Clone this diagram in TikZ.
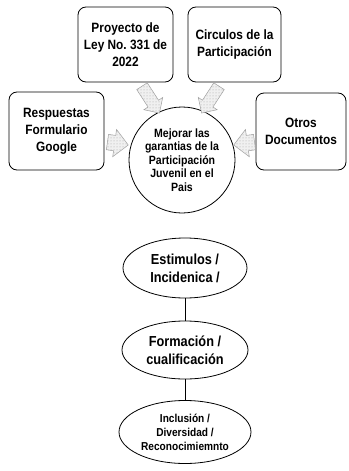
\documentclass[tikz,border=0pt]{standalone}
\usepackage{fontspec}
\setmainfont{Liberation Sans}[FakeStretch=0.88]
\usetikzlibrary{shapes.geometric,shapes.arrows,patterns}
\frenchspacing
\begin{document}
\begin{tikzpicture}[x=1pt,y=-1pt,
  box/.style={draw, rounded corners=8pt, line width=0.8pt, align=center,
    font=\fontsize{13.5}{17}\selectfont\bfseries, inner sep=0pt},
  hub/.style={draw, circle, line width=0.8pt, minimum size=106pt, align=center,
    font=\fontsize{12}{13.5}\selectfont\bfseries, inner sep=0pt},
  oval/.style={draw, ellipse, line width=0.8pt, align=center, inner sep=0pt},
  blockarrow/.style={single arrow, draw=gray!75, fill=gray!12, line width=0.5pt,
    postaction={pattern=dots, pattern color=gray!70},
    inner xsep=0pt, anchor=center},
  toparrow/.style={blockarrow, inner ysep=6pt, single arrow head extend=5pt, minimum height=32pt},
  sidearrow/.style={blockarrow, inner ysep=7.5pt, single arrow head extend=6pt, minimum height=21pt}
]
\useasboundingbox (0,0) rectangle (348,471);

% boxes
\node[box, minimum width=95pt, minimum height=75pt] (proy) at (125.5,44.5)
  {Proyecto de\\Ley No.\ 331 de\\2022};
\node[box, minimum width=93pt, minimum height=75pt] (circ) at (234.5,44.5)
  {Circulos de la\\Participación};
\node[box, minimum width=95pt, minimum height=78pt] (resp) at (56.5,131)
  {Respuestas\\Formulario\\Google};
\node[box, minimum width=90pt, minimum height=77pt] (otros) at (301,131.5)
  {Otros\\Documentos};

% central circle
\node[hub] (hub) at (182,160)
  {Mejorar las\\garantias de la\\Participación\\Juvenil en el\\Pais};

% block arrows
\node[toparrow, rotate=-57] (a1) at (149,97) {};
\node[toparrow, rotate=-123] (a2) at (212,97) {};
\node[sidearrow, rotate=-8] (a3) at (114,143) {};
\node[sidearrow, rotate=-172] (a4) at (248,143) {};

% lower ellipses
\node[oval, minimum width=124pt, minimum height=60pt,
  font=\fontsize{14.5}{18}\selectfont\bfseries] (e1) at (185,268)
  {Estimulos /\\Incidenica /};
\node[oval, minimum width=126pt, minimum height=58pt,
  font=\fontsize{14.5}{18}\selectfont\bfseries] (e2) at (185,350)
  {Formación /\\cualificación};
\node[oval, minimum width=132pt, minimum height=63pt,
  font=\fontsize{11.5}{14}\selectfont\bfseries] (e3) at (185,432)
  {Inclusión /\\Diversidad /\\Reconocimiemnto};

\draw[line width=0.8pt] (e1) -- (e2);
\draw[line width=0.8pt] (e2) -- (e3);
\end{tikzpicture}
\end{document}
